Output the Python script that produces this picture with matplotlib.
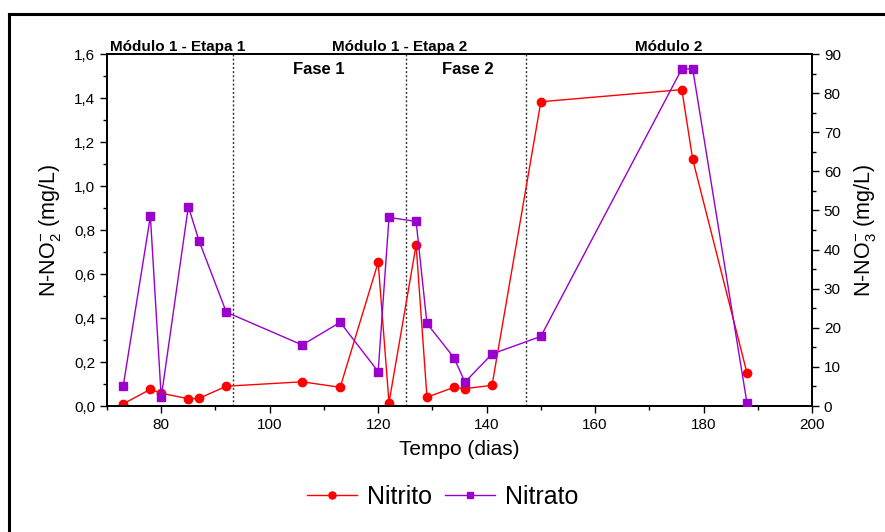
import matplotlib
matplotlib.use("Agg")
import matplotlib.pyplot as plt
from matplotlib.lines import Line2D
from matplotlib.ticker import MultipleLocator, FuncFormatter

plt.rcParams['font.family'] = ['Liberation Sans', 'DejaVu Sans']
plt.rcParams['mathtext.fontset'] = 'custom'
plt.rcParams['mathtext.rm'] = 'Liberation Sans'
plt.rcParams['mathtext.it'] = 'Liberation Sans:italic'

# Data
dias = [73, 78, 80, 85, 87, 92, 106, 113, 120, 122, 127, 129, 134, 136, 141, 150, 176, 178, 188]
nitrito = [0.01, 0.076, 0.058, 0.033, 0.035, 0.09, 0.11, 0.085, 0.653, 0.015, 0.732, 0.04,
           0.085, 0.079, 0.094, 1.383, 1.438, 1.121, 0.151]
nitrato = [5.2, 48.5, 2.2, 51.0, 42.1, 24.0, 15.6, 21.4, 8.8, 48.2, 47.2, 21.1,
           12.3, 6.1, 13.3, 17.8, 86.2, 86.2, 0.85]
divisoes = [93.2, 125.2, 147.3]
rotulos_topo = [("Módulo 1 - Etapa 1", 83.0), ("Módulo 1 - Etapa 2", 124.0), ("Módulo 2", 173.5)]
rotulos_fase = [("Fase 1", 109.0), ("Fase 2", 136.6)]

W, H = 885, 532
fig = plt.figure(figsize=(W / 100, H / 100), dpi=100)
ax = fig.add_axes([107 / W, 1 - 406 / H, (812 - 107) / W, (406 - 54) / H])
ax2 = ax.twinx()

red = '#ff0000'
purple = '#9900cc'

l1, = ax.plot(dias, nitrito, color=red, lw=1, marker='o', ms=6.0, mfc=red, mec=red, label='Nitrito', zorder=3)
l2, = ax2.plot(dias, nitrato, color=purple, lw=1, marker='s', ms=5.5, mfc=purple, mec=purple, label='Nitrato', zorder=3)

ax.set_xlim(70, 200)
ax.set_ylim(0, 1.6)
ax2.set_ylim(0, 90)

for d in divisoes:
    ax.axvline(d, color='#333333', lw=1, ls=(0, (1.5, 1.5)), zorder=1)

ax.xaxis.set_major_locator(MultipleLocator(20))
ax.xaxis.set_minor_locator(MultipleLocator(10))
ax.yaxis.set_major_locator(MultipleLocator(0.2))
ax.yaxis.set_minor_locator(MultipleLocator(0.1))
ax.yaxis.set_major_formatter(FuncFormatter(lambda v, p: f"{v:.1f}".replace('.', ',')))
ax2.yaxis.set_major_locator(MultipleLocator(10))
ax2.yaxis.set_minor_locator(MultipleLocator(5))

for a in (ax, ax2):
    a.tick_params(which='major', length=5, width=1, direction='out', labelsize=11, colors='black')
    a.tick_params(which='minor', length=3, width=1, direction='out')
    for s in a.spines.values():
        s.set_linewidth(1.3)

ax.set_xlabel('Tempo (dias)', fontsize=15, labelpad=6)
ax.set_ylabel(r'N-NO$_2^{-}$ (mg/L)', fontsize=15.5, labelpad=8)
ax2.set_ylabel(r'N-NO$_3^{-}$ (mg/L)', fontsize=15.5, labelpad=8)

for txt, xd in rotulos_topo:
    ax.text(xd, 1.6, txt, ha='center', va='bottom', fontsize=11, fontweight='bold')
for txt, xd in rotulos_fase:
    ax.text(xd, 1.529, txt, ha='center', va='center', fontsize=12, fontweight='bold')

fig.legend(handles=[l1, l2], loc='center', bbox_to_anchor=(0.5, 1 - 497 / H), ncol=2,
           frameon=False, fontsize=18, handlelength=2.0, handletextpad=0.4, columnspacing=0.5,
           markerscale=0.85)

# border lines of the figure frame
fig.add_artist(Line2D([8.5 / W, 8.5 / W], [0, 1 - 13.5 / H], transform=fig.transFigure, color='black', lw=2.2))
fig.add_artist(Line2D([8.5 / W, 1], [1 - 13.5 / H, 1 - 13.5 / H], transform=fig.transFigure, color='black', lw=2.2))

fig.savefig('out.png', dpi=100)
